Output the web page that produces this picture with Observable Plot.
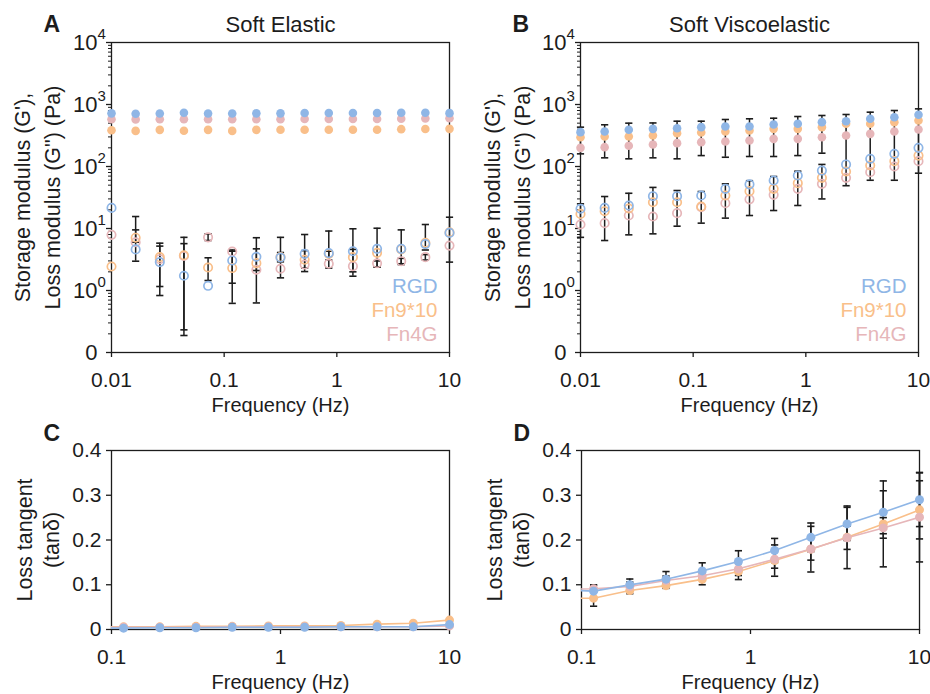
<!DOCTYPE html>
<html><head><meta charset="utf-8">
<script src="https://cdn.jsdelivr.net/npm/d3@7"></script>
<script src="https://cdn.jsdelivr.net/npm/@observablehq/plot@0.6"></script>
<style>
body{margin:0;background:#fff;}
#wrap{position:relative;width:930px;height:694px;overflow:hidden;background:#fff;}
#wrap svg{position:absolute;overflow:visible;}
</style></head><body><div id="wrap"></div>
<script>
// ---------- data ----------
const freq = [0.01, 0.01638, 0.02683, 0.04394, 0.07197, 0.1179, 0.1931, 0.3162, 0.5179, 0.8483, 1.389, 2.276, 3.728, 6.105, 10];
const series = ["RGD", "Fn9*10", "Fn4G"];
const colors = ["#8fb6e6", "#f9bf8a", "#e6b6b9"];

// Panel A: Soft Elastic
const aStorageRGD  = [720, 710, 715, 735, 715, 715, 720, 720, 730, 730, 730, 730, 735, 735, 725];
const aStorageFn9  = [385, 375, 390, 378, 390, 375, 390, 392, 392, 392, 392, 392, 400, 402, 405];
const aStorageFn4G = [580, 575, 580, 580, 580, 580, 580, 580, 585, 585, 585, 585, 590, 595, 600];
const aLossRGD  = [21.5, 4.6, 2.87, 1.73, 1.19, 3.05, 3.5, 3.4, 3.9, 4.0, 4.3, 4.7, 4.7, 5.6, 8.5];
const aLossFn9  = [2.44, 7.1, 3.45, 3.7, 2.35, 2.3, 2.76, 3.45, 3.13, 3.9, 3.45, 4.05, 4.6, 5.9, 8.7];
const aLossFn4G = [7.9, 6.0, 3.2, 3.6, 7.2, 4.25, 2.16, 2.24, 2.62, 2.7, 2.47, 2.75, 2.97, 3.45, 5.3];
const aBarIdx = [1, 1, 2, 2, 3, 3, 4, 4, 5, 5, 6, 6, 7, 7, 8, 8, 9, 9, 10, 10, 11, 11, 12, 12, 13, 13, 14];
const aBarLo  = [2.97, 6.0, 0.83, 1.16, 0.188, 0.232, 1.45, 6.4, 0.62, 1.31, 0.63, 2.1, 1.6, 2.9, 2.02, 2.3, 2.3, 3.1, 1.7, 2.0, 2.38, 2.4, 2.62, 2.7, 4.5, 3.1, 2.87];
const aBarHi  = [15.6, 9.5, 5.8, 5.2, 7.2, 5.7, 3.37, 8.2, 4.5, 4.3, 7.1, 4.7, 7.2, 4.1, 8.0, 4.4, 9.1, 4.3, 9.9, 4.6, 10.1, 3.0, 9.5, 3.3, 11.6, 3.8, 15.2];

// Panel B: Soft Viscoelastic
const bStorageRGD  = [358, 367, 391, 405, 415, 431, 442, 442, 476, 488, 519, 538, 588, 624, 682];
const bStorageFn9  = [297, 305, 305, 316, 345, 354, 367, 381, 405, 405, 431, 488, 488, 519, 552];
const bStorageFn4G = [200, 205, 216, 226, 238, 247, 253, 262, 279, 279, 297, 316, 336, 367, 395];
const bLossRGD  = [20.8, 21.5, 23.5, 33.2, 33.2, 34, 43.6, 51.5, 59.4, 71.6, 86, 108, 133, 160, 200];
const bLossFn9  = [17.2, 19, 21, 26.5, 26.5, 22.6, 34, 40, 43.6, 53.8, 65.6, 83, 104, 122, 150];
const bLossFn4G = [11.6, 12.2, 16.2, 15.6, 17.7, 22, 25.6, 29.5, 34.9, 43.6, 52.5, 65.6, 81, 100, 122];
const bBarIdx = [0, 1, 2, 3, 4, 5, 6, 7, 8, 9, 10, 11, 12, 13, 14, 0, 1, 2, 3, 4, 5, 6, 7, 8, 9, 10];
const bBarLo  = [160, 138, 133, 138, 133, 150, 141, 145, 145, 150, 164, 49, 60, 60, 78, 7.2, 6.4, 7.9, 8.2, 10.9, 12.2, 14.7, 16.2, 19.5, 23.5, 30];
const bBarHi  = [431, 471, 500, 504, 538, 538, 573, 588, 601, 640, 665, 690, 752, 800, 851, 25, 32.8, 37, 46, 41, 39.5, 52.5, 59, 69, 84, 108];

// Panels C, D: loss tangent
const tanFreq = [0.07197, 0.1179, 0.1931, 0.3162, 0.5179, 0.8483, 1.389, 2.276, 3.728, 6.105, 10];
const cTanRGD  = [0.003, 0.003, 0.004, 0.004, 0.005, 0.005, 0.005, 0.006, 0.006, 0.006, 0.011];
const cTanFn9  = [0.006, 0.006, 0.006, 0.007, 0.007, 0.008, 0.008, 0.009, 0.012, 0.014, 0.021];
const cTanFn4G = [0.005, 0.005, 0.005, 0.005, 0.006, 0.006, 0.006, 0.006, 0.006, 0.006, 0.008];
const dTanRGD  = [0.089, 0.0857, 0.0998, 0.1125, 0.131, 0.152, 0.1765, 0.206, 0.236, 0.262, 0.290];
const dTanFn9  = [0.070, 0.070, 0.087, 0.098, 0.112, 0.1296, 0.154, 0.1795, 0.206, 0.236, 0.2674];
const dTanFn4G = [0.090, 0.091, 0.096, 0.1095, 0.120, 0.1356, 0.157, 0.180, 0.205, 0.227, 0.251];
const dSdRGD  = [0, 0.014, 0.013, 0.017, 0.018, 0.024, 0.027, 0.032, 0.037, 0.048, 0.06];
const dSdFn9  = [0, 0.018, 0.007, 0.006, 0.012, 0.018, 0.035, 0.051, 0.07, 0.096, 0.065];
const dSdFn4G = [0, 0.008, 0.01, 0.01, 0.01, 0.015, 0.02, 0.025, 0.026, 0.023, 0.1];

// ticks
const modTicks = [0.1, 1, 10, 100, 1000, 10000];
const modTickBase = ["0", "10", "10", "10", "10", "10"];
const modTickExp  = ["", "0", "1", "2", "3", "4"];
const freqTicksAB = [0.01, 0.1, 1, 10];
const freqTickLabelsAB = ["0.01", "0.1", "1", "10"];
const freqTicksCD = [0.1, 1, 10];
const freqTickLabelsCD = ["0.1", "1", "10"];
const tanTicks = [0, 0.1, 0.2, 0.3, 0.4];
const tanTickLabels = ["0", "0.1", "0.2", "0.3", "0.4"];

// ---------- helpers ----------
const INK = "#1c1c1c";
const FONT = "'Liberation Sans', Arial, Helvetica, sans-serif";
const TICK_FS = 21, YLABEL_FS = 21.5, XLABEL_FS = 20, LEGEND_FS = 20.5;
const minorTicks = [];
for (const d of [0.1, 1, 10, 100, 1000]) for (let k = 2; k <= 9; k++) minorTicks.push(d * k);

const capSymbol = { draw(ctx, size) { const w = Math.sqrt(size / Math.PI); ctx.moveTo(-w, 0); ctx.lineTo(w, 0); } };
function errorMarks(data, opts = {}) {
  return [
    Plot.ruleX(data, {x: "f", y1: "lo", y2: "hi", stroke: INK, strokeWidth: 1.5, ...opts}),
    Plot.dot(data, {x: "f", y: "lo", symbol: capSymbol, r: 3.6, fill: "none", stroke: INK, strokeWidth: 1.6, ...opts}),
    Plot.dot(data, {x: "f", y: "hi", symbol: capSymbol, r: 3.6, fill: "none", stroke: INK, strokeWidth: 1.6, ...opts})
  ];
}
function rows(xs, values, s) { return xs.map((f, i) => ({f, v: values[i], s})); }
function label(text, o) { return Plot.text([text], {text: d => d, fill: INK, ...o}); }

function modPanel({letter, title, storage, loss, bars, width, marginLeft, marginRight}) {
  const filled = [rows(freq, storage[2], series[2]), rows(freq, storage[1], series[1]), rows(freq, storage[0], series[0])].flat();
  const open = [rows(freq, loss[2], series[2]), rows(freq, loss[1], series[1]), rows(freq, loss[0], series[0])].flat();
  const barData = bars.idx.map((k, i) => ({f: freq[k], lo: bars.lo[i], hi: bars.hi[i]}));
  return Plot.plot({
    width, height: 420, marginLeft, marginRight, marginTop: 42, marginBottom: 68,
    style: {fontFamily: FONT, fontSize: TICK_FS + "px", color: INK, background: "transparent"},
    x: {type: "log", domain: [0.01, 10]},
    y: {type: "log", domain: [0.1, 10000]},
    color: {domain: series, range: colors},
    marks: [
      Plot.frame({stroke: INK, strokeWidth: 1.3}),
      Plot.axisY({ticks: minorTicks, tickFormat: () => "", tickSize: 3, stroke: INK, strokeWidth: 1, label: null}),
      Plot.axisY({ticks: modTicks, tickFormat: () => "", tickSize: 5, stroke: INK, strokeWidth: 1.3, label: null}),
      Plot.text(modTicks, {y: d => d, frameAnchor: "left", text: (d, i) => modTickBase[i], textAnchor: "end", lineAnchor: "middle", dx: -14, fill: INK, fontSize: 22}),
      Plot.text(modTicks, {y: d => d, frameAnchor: "left", text: (d, i) => modTickExp[i], textAnchor: "start", lineAnchor: "middle", dx: -14, dy: -8, fill: INK, fontSize: 15}),
      Plot.axisX({ticks: freqTicksAB, tickFormat: d => freqTickLabelsAB[freqTicksAB.indexOf(d)], tickSize: 5, tickPadding: 15, stroke: INK, strokeWidth: 1.3, fontSize: TICK_FS, label: null}),
      ...errorMarks(barData),
      Plot.dot(filled, {x: "f", y: "v", fill: "s", r: 4.3}),
      Plot.dot(open, {x: "f", y: "v", stroke: "s", fill: "none", r: 4.2, strokeWidth: 1.7}),
      ...series.map((s, i) => label(s, {frameAnchor: "bottom-right", dx: -12, dy: -(66 - 24 * i), textAnchor: "end", lineAnchor: "middle", fill: colors[i], fontSize: LEGEND_FS})),
      label(title, {frameAnchor: "top", dy: -18, lineAnchor: "middle", fontSize: 22}),
      label(letter, {frameAnchor: "top-left", dx: -68, dy: -18, textAnchor: "start", lineAnchor: "middle", fontSize: 23, fontWeight: "bold"}),
      label("Storage modulus (G'),", {frameAnchor: "left", rotate: -90, dx: -(marginLeft - 23), textAnchor: "middle", lineAnchor: "middle", fontSize: YLABEL_FS}),
      label("Loss modulus (G\") (Pa)", {frameAnchor: "left", rotate: -90, dx: -(marginLeft - 53), textAnchor: "middle", lineAnchor: "middle", fontSize: YLABEL_FS}),
      label("Frequency (Hz)", {frameAnchor: "bottom", dy: 53, lineAnchor: "middle", fontSize: XLABEL_FS})
    ]
  });
}

function tanPanel({letter, tan, sd, width, marginLeft, marginRight}) {
  const order = [1, 2, 0];
  const lineData = order.map(j => rows(tanFreq, tan[j], series[j])).flat();
  const dotData = lineData.filter(d => d.f >= 0.1);
  const barData = sd ? order.map(j => tanFreq.map((f, i) => ({f, lo: tan[j][i] - sd[j][i], hi: tan[j][i] + sd[j][i]}))).flat().filter(d => d.f >= 0.1) : [];
  return Plot.plot({
    width, height: 274, marginLeft, marginRight, marginTop: 30, marginBottom: 65,
    style: {fontFamily: FONT, fontSize: TICK_FS + "px", color: INK, background: "transparent"},
    x: {type: "log", domain: [0.1, 10]},
    y: {domain: [0, 0.4]},
    color: {domain: series, range: colors},
    marks: [
      Plot.frame({stroke: INK, strokeWidth: 1.3}),
      Plot.axisY({ticks: tanTicks, tickFormat: d => tanTickLabels[tanTicks.indexOf(d)], tickSize: 5, tickPadding: 5, stroke: INK, strokeWidth: 1.3, fontSize: TICK_FS, label: null}),
      Plot.axisX({ticks: freqTicksCD, tickFormat: d => freqTickLabelsCD[freqTicksCD.indexOf(d)], tickSize: 5, tickPadding: 15, stroke: INK, strokeWidth: 1.3, fontSize: TICK_FS, label: null}),
      ...(barData.length ? errorMarks(barData) : []),
      Plot.line(lineData, {x: "f", y: "v", z: "s", stroke: "s", strokeWidth: 1.6, clip: true}),
      Plot.dot(dotData, {x: "f", y: "v", fill: "s", r: 4.5}),
      label(letter, {frameAnchor: "top-left", dx: -68, dy: -17, textAnchor: "start", lineAnchor: "middle", fontSize: 23, fontWeight: "bold"}),
      label("Loss tangent", {frameAnchor: "left", rotate: -90, dx: -(marginLeft - 25), textAnchor: "middle", lineAnchor: "middle", fontSize: YLABEL_FS}),
      label("(tan\u03B4)", {frameAnchor: "left", rotate: -90, dx: -(marginLeft - 52), textAnchor: "middle", lineAnchor: "middle", fontSize: YLABEL_FS}),
      label("Frequency (Hz)", {frameAnchor: "bottom", dy: 53, lineAnchor: "middle", fontSize: XLABEL_FS})
    ]
  });
}

const wrap = document.getElementById("wrap");
function place(svg, left, top) { svg.style.left = left + "px"; svg.style.top = top + "px"; wrap.appendChild(svg); }

place(modPanel({letter: "A", title: "Soft Elastic",
  storage: [aStorageRGD, aStorageFn9, aStorageFn4G], loss: [aLossRGD, aLossFn9, aLossFn4G],
  bars: {idx: aBarIdx, lo: aBarLo, hi: aBarHi}, width: 465, marginLeft: 111, marginRight: 16}), 0, 0);
place(modPanel({letter: "B", title: "Soft Viscoelastic",
  storage: [bStorageRGD, bStorageFn9, bStorageFn4G], loss: [bLossRGD, bLossFn9, bLossFn4G],
  bars: {idx: bBarIdx, lo: bBarLo, hi: bBarHi}, width: 460, marginLeft: 110, marginRight: 12}), 470, 0);
place(tanPanel({letter: "C", tan: [cTanRGD, cTanFn9, cTanFn4G], sd: null, width: 465, marginLeft: 111, marginRight: 16}), 0, 420);
place(tanPanel({letter: "D", tan: [dTanRGD, dTanFn9, dTanFn4G], sd: [dSdRGD, dSdFn9, dSdFn4G], width: 460, marginLeft: 111, marginRight: 11}), 470, 420);
</script>
</body></html>
